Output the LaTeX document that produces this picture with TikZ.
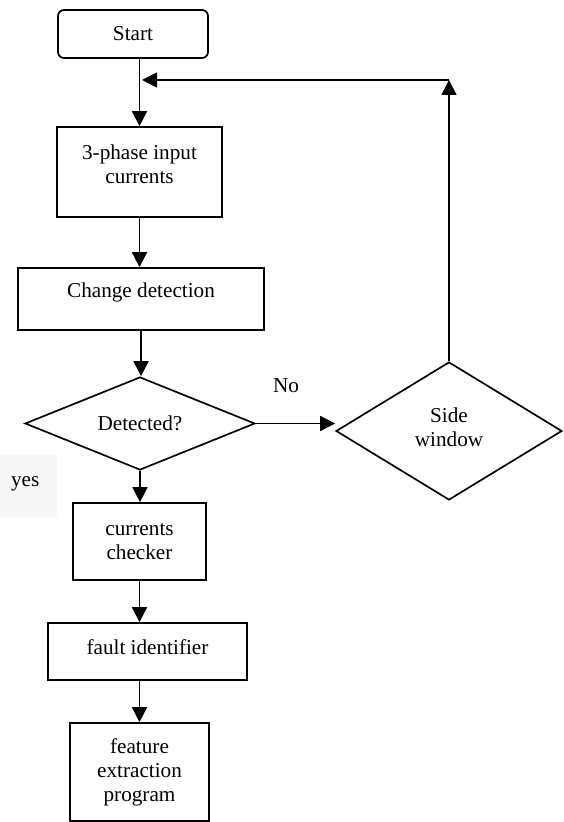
\documentclass[tikz,border=0pt]{standalone}
\usepackage{fontspec}
\setmainfont{Liberation Serif}
\usetikzlibrary{shapes.geometric,arrows.meta}

\tikzset{
  blk/.style={draw,line width=0.85pt,align=center,inner sep=1pt},
  dec/.style={draw,diamond,line width=0.85pt,align=center,inner sep=1pt},
  arr/.style={line width=0.85pt,-{Triangle[length=7.5pt,width=7.5pt]}}
}

\begin{document}
\begin{tikzpicture}[x=0.5pt,y=-0.5pt,font=\fontsize{10.6}{12}\selectfont]
\useasboundingbox (0,0) rectangle (563,822);
\node[blk,rounded corners=3pt,minimum width=75pt,minimum height=24pt] (St) at (133,34) {Start};
\node[blk,minimum width=82.5pt,minimum height=45pt,text depth=8pt] (Ph) at (139.5,172) {3-phase input\\currents};
\node[blk,minimum width=123pt,minimum height=31pt,text depth=9pt] (Cd) at (141,299) {Change detection};
\node[dec,minimum width=115pt,minimum height=46.5pt,aspect=2.5] (De) at (140,423.5) {Detected?};
\node[dec,minimum width=113pt,minimum height=69pt,aspect=1.6,text depth=4pt] (Sw) at (449,431) {Side\\window};
\node[blk,minimum width=66.5pt,minimum height=38.5pt] (Cc) at (139.5,541.5) {currents\\checker};
\node[blk,minimum width=99.5pt,minimum height=28.5pt,text depth=4.5pt] (Fi) at (147.5,651.5) {fault identifier};
\node[blk,minimum width=69.5pt,minimum height=49pt] (Fe) at (139.5,772) {feature\\extraction\\program};
\node (lNo) at (286,386) {No};
\node[fill=black!3,text width=17.5pt,inner xsep=5.5pt,align=left,minimum height=31pt,text depth=4.3pt] (lYes) at (28.5,486) {yes};
\coordinate (Cr) at (449,80);
\coordinate (Jn) at (142,80);
\draw[arr] (St.south -| Ph.north) -- (Ph.north);
\draw[arr] (Ph.south) -- (Ph.south |- Cd.north);
\draw[arr] (Cd.south) -- (Cd.south |- De.north);
\draw[arr] (De.south) -- (De.south |- Cc.north);
\draw[arr] (Cc.south) -- (Cc.south |- Fi.north);
\draw[arr] (Fe.north |- Fi.south) -- (Fe.north);
\draw[arr] (De.east) -- (De.east -| Sw.west);
\draw[arr] (Sw.north) -- (Cr);
\draw[arr] (Cr) -- (Jn);
\end{tikzpicture}
\end{document}
